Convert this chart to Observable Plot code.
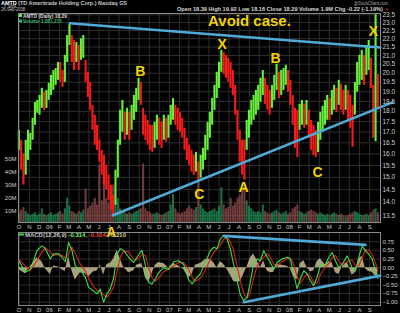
<!DOCTYPE html>
<html><head><meta charset="utf-8">
<script src="https://cdn.jsdelivr.net/npm/d3@7"></script>
<script src="https://cdn.jsdelivr.net/npm/@observablehq/plot@0.6"></script>
<style>
html,body{margin:0;padding:0;background:#000;}
#wrap{position:relative;width:400px;height:313px;background:#000;overflow:hidden;font-family:"Liberation Sans",Arial,sans-serif;}
#wrap svg{position:absolute;left:0;overflow:visible;}
</style></head><body><div id="wrap"></div>
<script>
// ---------- data (weekly, starting Fri 30-Sep-2005) ----------
const weekHigh = [17.08,16.62,16.00,16.62,17.08,16.94,17.66,18.45,18.55,18.81,
19.18,18.97,19.07,19.45,19.88,20.15,20.26,20.60,20.60,20.15,
21.01,22.19,22.87,22.19,21.89,21.77,21.59,22.00,22.19,20.72,
20.05,19.50,18.30,17.81,17.32,16.62,16.16,15.94,15.51,15.09,
14.68,14.28,15.30,16.62,18.05,18.55,17.95,18.15,17.95,18.30,
18.81,19.18,19.72,19.50,18.15,17.81,17.56,17.32,17.32,17.46,
17.81,17.66,17.46,17.81,17.66,17.81,18.30,18.65,18.30,18.15,
17.95,17.66,17.18,16.71,16.39,16.16,15.94,16.07,15.64,15.94,
16.25,16.85,17.46,17.95,18.65,19.34,20.05,20.60,21.30,21.18,
21.01,20.84,20.60,20.15,19.34,18.05,17.08,16.62,16.62,17.56,
18.05,18.55,18.81,19.07,19.34,19.72,20.15,19.72,19.34,19.07,
19.34,19.88,20.50,20.05,20.15,20.26,20.44,20.15,19.61,18.81,
18.15,18.05,18.35,18.55,18.35,18.55,18.05,17.56,17.32,17.08,
17.46,17.95,18.25,18.55,18.81,18.65,19.07,19.34,19.18,19.61,
19.40,19.07,19.34,19.07,18.81,18.30,19.50,20.60,21.01,21.30,
21.01,21.59,21.89,20.84,19.34,23.50,19.92];
const weekLow = [16.16,15.30,14.68,15.09,15.72,16.16,16.62,17.32,17.90,17.81,
18.15,18.05,18.15,18.55,18.81,19.07,19.34,19.61,19.50,19.23,
19.50,20.60,21.59,20.60,20.15,20.60,20.15,20.72,20.84,19.50,
18.70,18.05,17.08,16.39,16.16,15.64,15.09,14.68,14.48,14.08,
13.70,13.45,13.89,14.97,16.39,16.99,16.62,16.85,16.62,17.08,
17.56,17.95,18.55,18.30,16.85,16.62,16.39,16.16,16.07,16.25,
16.62,16.39,16.25,16.62,16.53,16.71,17.32,17.56,17.32,17.08,
16.99,16.71,16.16,15.72,15.51,15.22,15.09,15.22,14.80,14.97,
15.30,15.72,16.16,16.71,17.32,18.05,18.65,19.18,20.05,19.93,
19.72,19.50,19.18,18.81,17.81,16.62,15.64,15.09,14.88,16.16,
16.71,17.32,17.56,17.81,18.05,18.45,18.81,18.35,18.05,17.81,
18.15,18.55,19.07,18.65,18.81,19.07,19.34,18.97,18.30,17.32,
16.25,15.85,17.08,17.32,17.18,17.32,16.71,16.16,15.94,15.85,
16.07,16.62,16.99,17.32,17.56,17.56,17.81,18.05,17.95,18.30,
18.05,17.81,18.05,17.56,17.18,16.30,17.81,18.97,19.34,19.61,
19.34,19.88,20.15,19.18,16.71,16.55,18.16];
const weekVolM = [9,11,13,10,8,7,8,9,7,8,
12,8,7,8,9,7,8,9,10,8,
12,20,14,10,9,8,10,9,11,27,
12,14,16,20,15,45,18,44,20,16,
25,30,18,20,12,10,9,8,9,8,
9,10,11,12,46,12,10,9,8,8,
9,8,7,8,9,10,15,23,12,9,
8,9,10,12,14,12,11,13,33,15,
12,10,9,10,11,12,10,14,28,15,
12,13,20,14,16,20,22,26,30,18,
14,12,10,9,10,9,15,10,9,8,
9,10,11,9,8,9,10,8,9,12,
13,15,10,9,8,9,10,11,10,9,
8,9,8,7,8,7,8,9,8,7,
8,7,6,7,8,9,10,9,8,7,
7,8,7,9,11,12,9];

// MACD samples (week offset from 30-Sep-2005)
const macdWeek = [0,2.8,5.0,7.9,10.0,11.5,13.7,15.1,17.3,18.7,20.2,21.6,23.1,24.5,26.7,28.9,30.3,32.5,34.0,35.4,36.8,38.3,39.7,41.2,42.7,44.1,45.5,47.7,49.9,51.3,53.5,55.0,56.4,57.9,59.3,60.7,62.9,65.1,67.3,69.4,71.6,73.8,75.3,76.7,78.9,81.0,83.2,84.7,86.1,87.6,89.0,90.5,91.9,93.3,94.8,96.3,97.7,99.2,100.6,102.0,103.5,104.9,106.4,107.9,109.3,110.7,112.2,114.4,116.6,118.0,119.4,120.9,122.3,123.8,125.3,126.7,128.1,129.6,131.0,133.2,134.7,136.1,137.6,139.0,140.5,142.7,144.8,146.3,147.7,149.2,150.6,152.0,153.5,154.9,156.0];
const macdLine = [0.20,-0.13,-0.05,0.49,0.63,0.55,0.25,0.40,0.40,0.30,0.17,0.73,0.50,0.06,-0.05,-0.28,-0.57,-0.67,-0.76,-0.62,-1.00,-0.76,-0.62,-0.30,0.40,0.55,0.50,0.30,0.15,0.30,0.50,0.06,-0.42,-0.47,-0.33,-0.15,0.00,-0.05,0.17,0.20,0.10,-0.35,-0.47,-0.33,-0.18,0.15,0.49,0.59,0.55,0.83,0.92,0.83,0.54,0.10,-0.37,-0.80,-0.95,-0.85,-0.42,0.10,0.25,0.20,0.49,0.30,0.15,-0.04,0.15,0.25,0.30,0.25,-0.18,-0.61,-0.33,-0.09,-0.18,-0.37,-0.52,-0.27,0.06,0.10,0.30,0.44,0.20,0.00,0.10,0.34,0.00,-0.09,0.30,0.63,0.49,0.39,0.25,-0.09,-0.314];
const macdSignal = [0.25,0.05,-0.08,0.20,0.45,0.58,0.45,0.35,0.38,0.36,0.28,0.40,0.60,0.42,0.10,-0.10,-0.30,-0.55,-0.66,-0.70,-0.78,-0.85,-0.75,-0.55,-0.10,0.30,0.48,0.45,0.25,0.22,0.38,0.35,0.00,-0.30,-0.40,-0.30,-0.12,-0.04,0.05,0.15,0.15,-0.05,-0.28,-0.40,-0.30,-0.08,0.25,0.45,0.55,0.65,0.82,0.88,0.75,0.50,0.05,-0.40,-0.75,-0.88,-0.70,-0.30,0.05,0.20,0.30,0.40,0.30,0.10,0.05,0.18,0.26,0.28,0.10,-0.25,-0.45,-0.30,-0.18,-0.25,-0.42,-0.45,-0.20,0.02,0.12,0.30,0.35,0.20,0.08,0.18,0.22,0.05,0.05,0.30,0.52,0.50,0.38,0.15,-0.104];

// trend lines (week offset, value)
const priceUpperW = [22.1,157.1], priceUpperV = [22.96,21.47];
const priceLowerW = [40.9,162.3], priceLowerV = [13.51,18.45];
const macdUpperW = [89.0,150.6], macdUpperV = [0.92,0.66];
const macdLowerW = [97.7,157.1], macdLowerV = [-1.00,-0.23];

// annotations
const annoText = ["Avoid case.","X","X","B","B","C","C","A","A"];
const annoWeek = [100.2,88.4,154.1,52.8,111.5,78.4,129.8,40.2,97.6];
const annoPrice = [23.12,21.65,22.45,20.1,20.8,14.3,15.2,12.88,14.6];

const priceTicks = d3.range(27,48).map(v=>v/2);
const volTicks = [10,20,30,40,50];
const macdTicks = [0.75,0.5,0.25,0,-0.25,-0.5,-0.75,-1.0];

// ---------- build ----------
const DAY = 864e5, start = Date.UTC(2005,8,30);
const wk = w => new Date(start + w*7*DAY);
const rows = weekHigh.map((h,i)=>({date:wk(i), hi:h, lo:weekLow[i], vol:weekVolM[i]}));
rows.forEach((r,i)=>{const m=(r.hi+r.lo)/2, p=i?(rows[i-1].hi+rows[i-1].lo)/2:m; r.up = m>=p;});
const macdRows = macdWeek.map((w,i)=>({date:wk(w), macd:macdLine[i], signal:macdSignal[i], hist:macdLine[i]-macdSignal[i]}));
const pair = (W,V)=>W.map((w,i)=>({date:wk(w), v:V[i]}));
const annos = annoText.map((t,i)=>({t, date:wk(annoWeek[i]), p:annoPrice[i]}));

const months = d3.utcMonths(new Date(Date.UTC(2005,9,1)), new Date(Date.UTC(2008,8,2)));
const mFmt = d => d.getUTCMonth()===0 ? String(d.getUTCFullYear()).slice(2) : "JFMAMJJASOND"[d.getUTCMonth()];
const X = {type:"utc", domain:[new Date(Date.UTC(2005,8,29)), new Date(Date.UTC(2008,9,4))], axis:null};
const FONT = "Liberation Sans, Arial, sans-serif";
const base = {width:400, marginLeft:18, marginRight:20, style:{background:"transparent", fontFamily:FONT, overflow:"visible"}};
const GREEN="#66f03c", RED="#f41c1c", BLUE="#4faad8", YEL="#f2d400", GRID="#2e2e2e", TXT="#cfcfcf";

const priceBase = {...base, height:231, marginTop:13, marginBottom:9, x:X, y:{type:"log", domain:[13.242,23.584], axis:null}};

const gridLayer = Plot.plot({...priceBase, marks:[
  Plot.gridX(months,{stroke:GRID, strokeOpacity:1}),
  Plot.gridY(priceTicks,{stroke:GRID, strokeOpacity:1})
]});

const volLayer = Plot.plot({...base, height:231, marginTop:13, marginBottom:9, x:X, y:{domain:[1.67,160], axis:null},
  marks:[
    Plot.ruleX(rows,{x:"date", y1:0, y2:"vol", stroke:d=>d.up?"#1f8a55":"#8a4848", strokeWidth:2.1, strokeOpacity:0.8, clip:true}),
    Plot.axisY(volTicks,{anchor:"left", tickSize:0, tickPadding:2, tickFormat:d=>d+"M", fill:TXT, fontSize:6})
  ]});

const priceLayer = Plot.plot({...priceBase, marks:[
  Plot.ruleX(rows,{x:"date", y1:"lo", y2:"hi", stroke:d=>d.up?GREEN:RED, strokeWidth:2.1}),
  Plot.line(pair(priceUpperW,priceUpperV),{x:"date", y:"v", stroke:BLUE, strokeWidth:2.6}),
  Plot.line(pair(priceLowerW,priceLowerV),{x:"date", y:"v", stroke:BLUE, strokeWidth:2.6}),
  Plot.frame({stroke:"#8a8a8a"}),
  Plot.axisY(priceTicks,{anchor:"right", tickSize:0, tickPadding:2, tickFormat:d3.format(".1f"), fill:TXT, fontSize:6.5}),
  Plot.axisX(months,{anchor:"bottom", tickSize:0, tickPadding:2, tickFormat:mFmt, fill:TXT, fontSize:6}),
  Plot.text(annos,{x:"date", y:"p", text:"t", fill:YEL, fontWeight:"bold", fontSize:d=>d.t.length>1?15:14, clip:false})
]});

const macdLayer = Plot.plot({...base, height:85, marginTop:4, marginBottom:8, x:X, y:{domain:[-1.095,1.017], axis:null},
  marks:[
    Plot.gridX(months,{stroke:GRID, strokeOpacity:1}),
    Plot.gridY(macdTicks,{stroke:GRID, strokeOpacity:1}),
    Plot.areaY(macdRows,{x:"date", y1:0, y2:"hist", fill:"#c6bd90", fillOpacity:0.85}),
    Plot.line(macdRows,{x:"date", y:"signal", stroke:"#d82020", strokeWidth:1.1}),
    Plot.line(macdRows,{x:"date", y:"macd", stroke:"#3fe03f", strokeWidth:1.1}),
    Plot.line(pair(macdUpperW,macdUpperV),{x:"date", y:"v", stroke:BLUE, strokeWidth:2.6}),
    Plot.line(pair(macdLowerW,macdLowerV),{x:"date", y:"v", stroke:BLUE, strokeWidth:2.6}),
    Plot.frame({stroke:"#8a8a8a"}),
    Plot.axisY(macdTicks,{anchor:"right", tickSize:0, tickPadding:2, tickFormat:d3.format(".2f"), fill:TXT, fontSize:6}),
    Plot.axisX(months,{anchor:"bottom", tickSize:0, tickPadding:2, tickFormat:mFmt, fill:TXT, fontSize:6})
  ]});

const wrap = document.getElementById("wrap");
[[gridLayer,0,1],[volLayer,0,2],[macdLayer,228,3],[priceLayer,0,4]].forEach(([el,top,z])=>{
  el.style.top = top+"px"; el.style.zIndex = z; wrap.appendChild(el);
});

// header / legends (text)
const hdr = d3.select(wrap).append("svg").attr("width",400).attr("height",313)
  .style("top","0px").style("z-index",5).style("pointer-events","none").style("font-family",FONT);
const T = (x,y,len,parts,size,weight) => {
  const t = hdr.append("text").attr("x",x).attr("y",y).attr("font-size",size).attr("font-weight",weight||"normal");
  if (len) t.attr("textLength",len).attr("lengthAdjust","spacingAndGlyphs");
  parts.forEach(([s,c])=>t.append("tspan").attr("fill",c).text(s));
  return t;
};
T(1,5,126,[["AMTD","#fff"],[" (TD Ameritrade Holding Corp.) Nasdaq GS","#c8c8c8"]],6,"bold");
T(1,11,24,[["26-Sep-2008","#c8c8c8"]],5.5);
T(177,11,206,[["Open 18.39 High 19.92 Low 18.16 Close 18.29 Volume 1.9M Chg -0.22 (-1.19%)","#d8d8d8"]],6,"bold");
T(385,10.5,null,[["\u25BC","#ff2020"]],4);
T(354,5,34,[["@StockCharts.com","#a8a8a8"]],5.5);
hdr.append("rect").attr("x",19).attr("y",14).attr("width",3).attr("height",3).attr("fill",GREEN);
T(23,18,44,[["AMTD (Daily) 18.29","#d8d8d8"]],6,"bold");
hdr.append("rect").attr("x",19).attr("y",19.5).attr("width",3).attr("height",3).attr("fill","#2db36a");
T(23,23,39,[["Volume 1,881,215","#2db36a"]],6,"bold");
hdr.append("rect").attr("x",19).attr("y",233.5).attr("width",5).attr("height",2).attr("fill","#3fe03f");
T(25,237,101,[["MACD(12,26,9) ","#c8c8c8"],["-0.314, ","#7af07a"],["-0.104, ","#f04040"],["-0.210","#d8cf9a"]],6,"bold");
</script></body></html>
